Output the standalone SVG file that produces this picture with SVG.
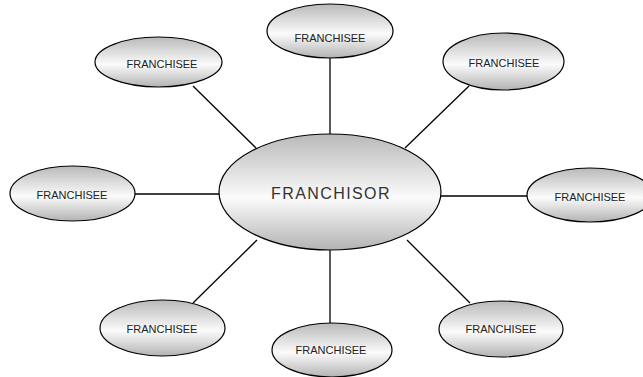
<svg xmlns="http://www.w3.org/2000/svg" width="643" height="377" viewBox="0 0 643 377">
<defs>
<linearGradient id="g" x1="0" y1="0" x2="0" y2="1">
<stop offset="0" stop-color="#b9b9b9"/>
<stop offset="0.55" stop-color="#fbfbfb"/>
<stop offset="1" stop-color="#b3b3b3"/>
</linearGradient>
</defs>
<style>
.n{fill:url(#g);stroke:#000;stroke-width:1.2}
.t{font-family:"Liberation Sans",Arial,sans-serif;font-size:11px;fill:#222;text-anchor:middle}
.big{font-size:16px;letter-spacing:1.4px;fill:#333}
.c line{stroke:#000;stroke-width:1.3}
</style>
<rect width="643" height="377" fill="#fff"/>
<g class="c" id="connectors">
<line x1="193" y1="86" x2="256" y2="148"/>
<line x1="330" y1="58" x2="330" y2="134"/>
<line x1="469" y1="86" x2="405" y2="148"/>
<line x1="135" y1="194" x2="219" y2="194"/>
<line x1="441" y1="196" x2="527" y2="196"/>
<line x1="193" y1="303" x2="257" y2="240"/>
<line x1="330" y1="250" x2="330" y2="323"/>
<line x1="470" y1="303" x2="407" y2="240"/>
</g>
<g id="franchisor">
<ellipse class="n" cx="330" cy="192" rx="111" ry="58"/>
<text class="t big" x="331" y="199">FRANCHISOR</text>
</g>
<g id="f-top">
<ellipse class="n" cx="330" cy="31" rx="63" ry="27"/>
<text class="t" x="330" y="42">FRANCHISEE</text>
</g>
<g id="f-topleft">
<ellipse class="n" cx="158.5" cy="62" rx="63.5" ry="25"/>
<text class="t" x="162" y="68">FRANCHISEE</text>
</g>
<g id="f-topright">
<ellipse class="n" cx="503.5" cy="61.5" rx="60.5" ry="28.5"/>
<text class="t" x="504" y="67">FRANCHISEE</text>
</g>
<g id="f-left">
<ellipse class="n" cx="72.5" cy="193.5" rx="62.5" ry="27.5"/>
<text class="t" x="72" y="199">FRANCHISEE</text>
</g>
<g id="f-right">
<ellipse class="n" cx="590" cy="195" rx="63" ry="27"/>
<text class="t" x="590" y="201">FRANCHISEE</text>
</g>
<g id="f-bottomleft">
<ellipse class="n" cx="162.5" cy="328" rx="62.5" ry="28"/>
<text class="t" x="162" y="333">FRANCHISEE</text>
</g>
<g id="f-bottom">
<ellipse class="n" cx="332" cy="350" rx="60" ry="27"/>
<text class="t" x="331" y="354">FRANCHISEE</text>
</g>
<g id="f-bottomright">
<ellipse class="n" cx="501" cy="329" rx="62" ry="28"/>
<text class="t" x="501" y="333">FRANCHISEE</text>
</g>
</svg>
